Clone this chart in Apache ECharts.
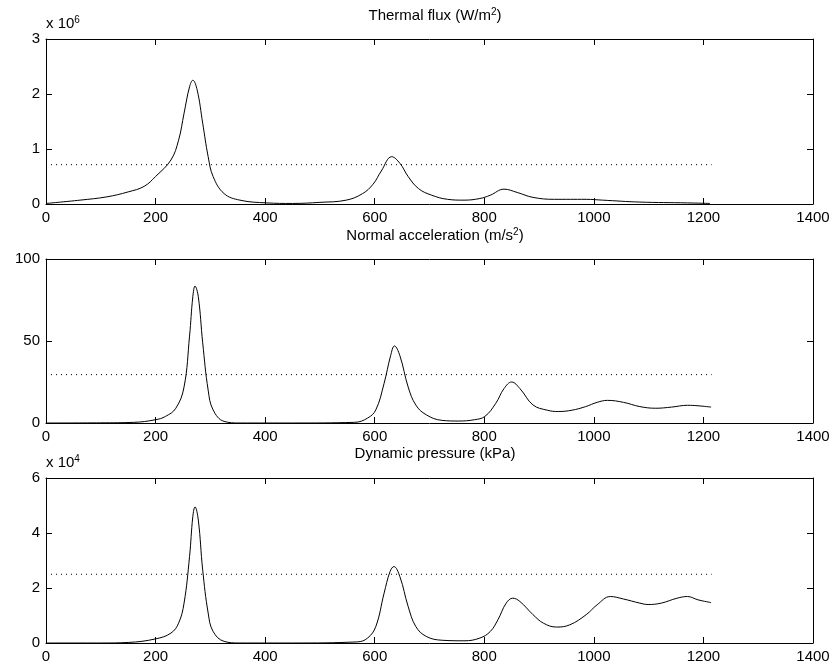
<!DOCTYPE html>
<html>
<head>
<meta charset="utf-8">
<script src="https://cdn.jsdelivr.net/npm/echarts@6/dist/echarts.min.js"></script>
<style>
html, body { margin: 0; padding: 0; background: #fff; }
#main { width: 836px; height: 672px; }
</style>
</head>
<body>
<div id="main"></div>
<script>
var xTicks = [0, 200, 400, 600, 800, 1000, 1200, 1400];

// thermal flux (W/m^2), values in 1e6
var fluxTime = [0, 62, 111, 150, 179, 200, 228, 242, 252, 262, 268, 276, 286, 296, 305, 325, 354, 403, 450, 500, 548, 578, 597, 612, 631, 646, 661, 680, 704, 733, 763, 792, 811, 836, 860, 889, 928, 986, 1016, 1084, 1171, 1212];
var fluxVals = [0.01, 0.07, 0.13, 0.22, 0.32, 0.5, 0.8, 1.16, 1.65, 2.13, 2.25, 2.07, 1.47, 0.86, 0.5, 0.19, 0.07, 0.02, 0.01, 0.03, 0.07, 0.19, 0.36, 0.6, 0.86, 0.74, 0.5, 0.28, 0.16, 0.085, 0.07, 0.1, 0.16, 0.27, 0.21, 0.12, 0.085, 0.085, 0.07, 0.035, 0.02, 0.01];
var fluxLimit = 0.715;

// normal acceleration (m/s^2)
var accTime = [0, 100, 160, 200, 218, 237, 252, 262, 268, 272, 278, 286, 296, 305, 325, 354, 450, 563, 587, 602, 617, 629, 636, 646, 661, 675, 694, 723, 753, 782, 801, 821, 836, 850, 865, 889, 915, 935, 960, 985, 1006, 1025, 1054, 1084, 1113, 1142, 1171, 1190, 1214];
var accVals = [0, 0.1, 0.4, 2, 4, 9, 22, 53, 77, 83.5, 77, 49, 20, 8, 1, 0, 0, 0.4, 3, 8, 24, 41, 47, 41, 22, 11, 5, 1.6, 1.2, 2, 4, 12, 21, 25, 21, 11, 7.8, 7, 7.8, 10, 12.6, 13.8, 12.6, 10, 9, 9.7, 10.8, 10.5, 9.7];
var accLimit = 29.5;

// dynamic pressure (kPa), values in 1e4
var presTime = [0, 100, 150, 200, 228, 242, 252, 262, 268, 272, 278, 286, 296, 305, 325, 354, 450, 568, 587, 602, 617, 628, 635, 646, 661, 675, 694, 723, 763, 792, 811, 825, 840, 852, 865, 889, 908, 932, 956, 986, 1006, 1030, 1054, 1084, 1099, 1123, 1152, 1171, 1190, 1214];
var presVals = [0, 0, 0.02, 0.15, 0.36, 0.72, 1.45, 3.14, 4.6, 4.95, 4.47, 2.66, 1.09, 0.42, 0.06, 0, 0, 0.04, 0.18, 0.6, 1.8, 2.6, 2.78, 2.41, 1.33, 0.6, 0.24, 0.1, 0.08, 0.18, 0.42, 0.85, 1.45, 1.63, 1.51, 1.03, 0.72, 0.58, 0.66, 1.03, 1.39, 1.69, 1.6, 1.45, 1.4, 1.45, 1.63, 1.69, 1.57, 1.47];
var presLimit = 2.5;
var limitEnd = 1215;

var font = "'Liberation Sans', Helvetica, Arial, sans-serif";
var rich = {
	sup: { fontSize: 10, verticalAlign: 'top', padding: [0, 0, 8, 0], fontFamily: font, color: '#000' }
};

function pairs(t, v, k) {
	return t.map(function (x, i) { return [x, v[i] * k]; });
}

var tops = [39, 259, 478];
var heights = [165, 164, 165];
var yMax = [3e6, 100, 6e4];
var yStep = [1e6, 50, 2e4];
var yDiv = [1e6, 1, 1e4];
var yNames = ['x 10{sup|6}', '', 'x 10{sup|4}'];
var titles = ['Thermal flux (W/m{sup|2})', 'Normal acceleration (m/s{sup|2})', 'Dynamic pressure (kPa)'];

var chart = echarts.init(document.getElementById('main'));
var option = {
	animation: false,
	backgroundColor: '#fff',
	title: [],
	grid: [],
	xAxis: [],
	yAxis: [],
	series: []
};

for (var i = 0; i < 3; i++) {
	option.title.push({
		text: titles[i],
		left: 430,
		top: tops[i] - 37,
		textAlign: 'center',
		textStyle: { fontFamily: font, fontSize: 15, fontWeight: 'normal', color: '#000', rich: rich }
	});
	option.grid.push({ left: 46, right: 23, top: tops[i], height: heights[i] });
	var axLine = { show: true, onZero: false, lineStyle: { color: '#000', width: 1 } };
	var tick = { show: true, inside: true, length: 6, lineStyle: { color: '#000' } };
	option.xAxis.push({
		type: 'value', gridIndex: i, min: 0, max: 1400, interval: 200, position: 'bottom',
		axisLine: axLine, axisTick: tick, splitLine: { show: false },
		axisLabel: { fontFamily: font, fontSize: 15, color: '#000', margin: 6, formatter: function (v) { return String(v); } }
	});
	option.xAxis.push({
		type: 'value', gridIndex: i, min: 0, max: 1400, interval: 200, position: 'top',
		axisLine: axLine, axisTick: tick, splitLine: { show: false }, axisLabel: { show: false }
	});
	(function (d) {
		option.yAxis.push({
			type: 'value', gridIndex: i, min: 0, max: yMax[i], interval: yStep[i], position: 'left',
			name: yNames[i], nameLocation: 'end', nameGap: 6,
			nameTextStyle: { fontFamily: font, fontSize: 15, color: '#000', align: 'left', rich: rich },
			axisLine: axLine, axisTick: tick, splitLine: { show: false },
			axisLabel: { fontFamily: font, fontSize: 15, color: '#000', margin: 6, formatter: function (v) { return String(v / d); } }
		});
	})(yDiv[i]);
	option.yAxis.push({
		type: 'value', gridIndex: i, min: 0, max: yMax[i], interval: yStep[i], position: 'right',
		axisLine: axLine, axisTick: tick, splitLine: { show: false }, axisLabel: { show: false }
	});
}

var curves = [pairs(fluxTime, fluxVals, 1e6), pairs(accTime, accVals, 1), pairs(presTime, presVals, 1e4)];
var limits = [fluxLimit * 1e6, accLimit, presLimit * 1e4];

for (var j = 0; j < 3; j++) {
	option.series.push({
		type: 'line', xAxisIndex: j * 2, yAxisIndex: j * 2, data: curves[j],
		smooth: 0.4, showSymbol: false, silent: true,
		lineStyle: { color: '#000', width: 1 }
	});
	option.series.push({
		type: 'line', xAxisIndex: j * 2, yAxisIndex: j * 2,
		data: [[0, limits[j]], [limitEnd, limits[j]]],
		showSymbol: false, silent: true,
		lineStyle: { color: '#000', width: 1, type: [1, 4] }
	});
}

chart.setOption(option);
</script>
</body>
</html>
